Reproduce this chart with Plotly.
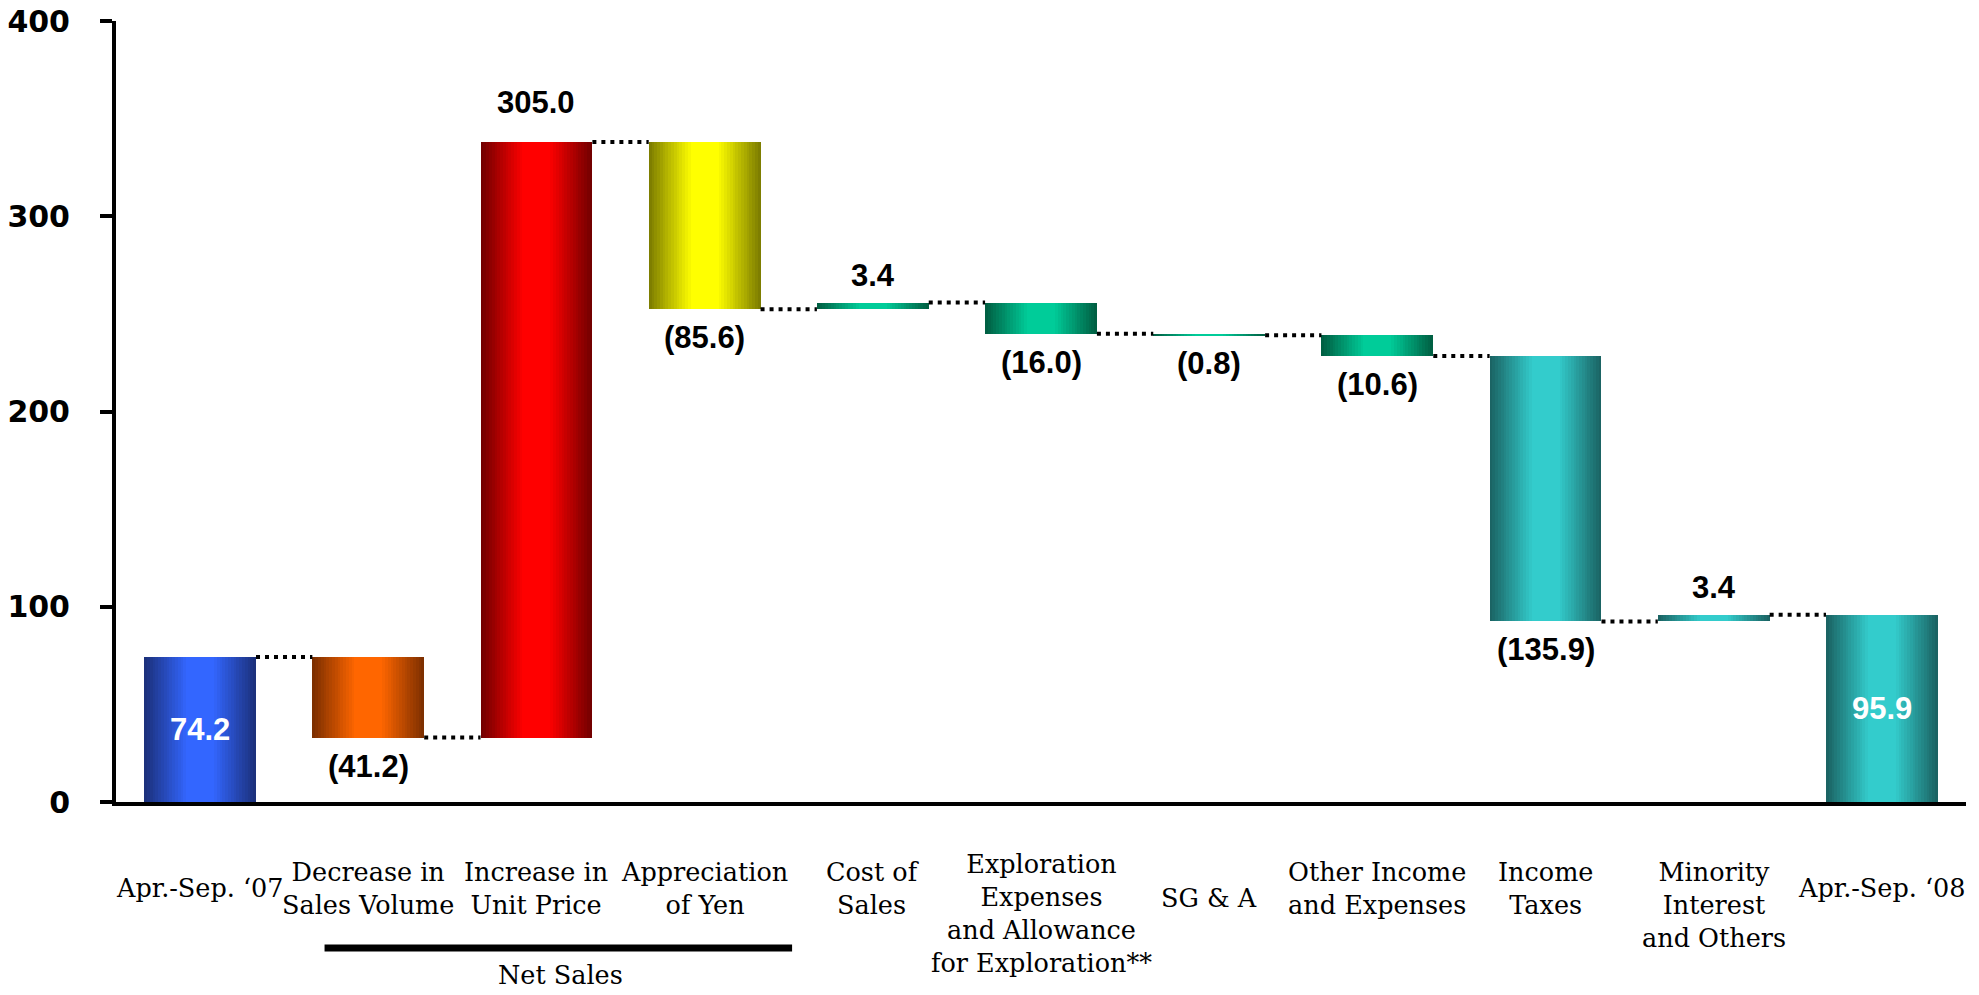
import plotly.graph_objects as go

# ---------------- data ----------------
categories = [
    "Apr.-Sep. \u201807",
    "Decrease in<br>Sales Volume",
    "Increase in<br>Unit Price",
    "Appreciation<br>of Yen",
    "Cost of<br>Sales",
    "Exploration<br>Expenses<br>and Allowance<br>for Exploration**",
    "SG & A",
    "Other Income<br>and Expenses",
    "Income<br>Taxes",
    "Minority<br>Interest<br>and Others",
    "Apr.-Sep. \u201808",
]
start_value = 74.2
deltas = [-41.2, 305.0, -85.6, 3.4, -16.0, -0.8, -10.6, -135.9, 3.4]
end_value = 95.9
y_ticks = [0, 100, 200, 300, 400]
group_label = "Net Sales"

# ---------------- styles ----------------
edge_colors = ["#1b2f78", "#7a2e00", "#6e0000", "#7a7a00", "#005c40", "#005c40",
               "#005c40", "#005c40", "#1a6060", "#1a6060", "#1a6060"]
center_colors = ["#3366ff", "#ff6600", "#ff0000", "#ffff00", "#00cc99", "#00cc99",
                 "#00cc99", "#00cc99", "#33cccc", "#33cccc", "#33cccc"]

W, H = 1979, 995
ML, MR, MT, MB = 116, 13, 21, 193
PLOT_H = H - MT - MB
BW = 0.665
N_STRIPS = 40
LABEL_FONT = "DejaVu Serif"
LABEL_SIZE = 25.5

# ---------------- waterfall geometry from data ----------------
n = len(categories)
xs = list(range(n))
bases, heights, levels = [], [], []
bases.append(0.0); heights.append(start_value); levels.append(start_value)
run = start_value
for d in deltas:
    new = run + d
    bases.append(min(run, new)); heights.append(abs(d))
    run = new
    levels.append(run)
bases.append(0.0); heights.append(end_value); levels.append(end_value)


def hex2rgb(h):
    h = h.lstrip("#")
    return tuple(int(h[i:i + 2], 16) for i in (0, 2, 4))


def mix(c1, c2, t):
    a, b = hex2rgb(c1), hex2rgb(c2)
    return "rgb(%d,%d,%d)" % tuple(round(a[k] + (b[k] - a[k]) * t) for k in range(3))


fig = go.Figure()

step = BW / N_STRIPS
for i in range(N_STRIPS):
    u = (i + 0.5) / N_STRIPS
    t = 1 - abs(2 * u - 1)
    s = min(1.0, t * 1.3)
    cols = [mix(edge_colors[k], center_colors[k], s) for k in range(n)]
    fig.add_trace(go.Bar(
        x=xs, y=heights, base=bases,
        width=step * (1.6 if i < N_STRIPS - 1 else 1.0),
        offset=-BW / 2 + i * step,
        marker=dict(color=cols, line=dict(width=0)),
        showlegend=False, hoverinfo="skip",
    ))

# dotted connectors
cx, cy = [], []
for k in range(n - 1):
    cx += [k + BW / 2, k + 1 - BW / 2, None]
    cy += [levels[k], levels[k], None]
fig.add_trace(go.Scatter(x=cx, y=cy, mode="lines",
                         line=dict(color="black", width=4, dash="4px,5px"),
                         showlegend=False, hoverinfo="skip"))

annotations = []
val_font = dict(family="Liberation Sans", size=31, color="black")
# start/end labels inside bars
for k, v in [(0, start_value), (n - 1, end_value)]:
    annotations.append(dict(x=k, y=v / 2, xref="x", yref="y", text="<b>%.1f</b>" % v,
                            showarrow=False, yanchor="middle",
                            font=dict(family="Liberation Sans", size=31, color="white")))
pos_shift = {2: 20}
for j, d in enumerate(deltas):
    k = j + 1
    if d >= 0:
        annotations.append(dict(x=k, y=bases[k] + heights[k], xref="x", yref="y",
                                text="<b>%.1f</b>" % d, showarrow=False, yanchor="bottom",
                                yshift=pos_shift.get(k, 8), font=val_font))
    else:
        annotations.append(dict(x=k, y=bases[k], xref="x", yref="y",
                                text="<b>(%.1f)</b>" % abs(d), showarrow=False, yanchor="top",
                                yshift=-9, font=val_font))

# category labels (pixel centres measured from reference layout)
label_center_px = [888, 888, 888, 888, 888, 913, 898, 888, 888, 905, 888]
plot_bottom = H - MB
for k, c in enumerate(categories):
    annotations.append(dict(x=k, y=(plot_bottom - label_center_px[k]) / PLOT_H,
                            xref="x", yref="paper", text=c, showarrow=False,
                            yanchor="middle", align="center",
                            font=dict(family=LABEL_FONT, size=LABEL_SIZE, color="black")))

annotations.append(dict(x=2.14, y=(plot_bottom - 975) / PLOT_H, xref="x", yref="paper",
                        text=group_label, showarrow=False, yanchor="middle", borderpad=0,
                        font=dict(family=LABEL_FONT, size=LABEL_SIZE, color="black")))

shapes = [dict(type="line", xref="x", yref="paper", x0=0.74, x1=3.52,
               y0=(plot_bottom - 948) / PLOT_H, y1=(plot_bottom - 948) / PLOT_H,
               line=dict(color="black", width=7))]

fig.update_layout(
    width=W, height=H,
    margin=dict(l=ML, r=MR, t=MT, b=MB, autoexpand=False),
    plot_bgcolor="white", paper_bgcolor="white",
    barmode="overlay", bargap=0,
    annotations=annotations, shapes=shapes,
    xaxis=dict(range=[-0.5, n - 0.5], showgrid=False, zeroline=False,
               showline=True, linecolor="black", linewidth=4, automargin=False,
               showticklabels=False, ticks=""),
    yaxis=dict(range=[0, 400], tickvals=y_ticks, showgrid=False, zeroline=False,
               showline=True, linecolor="black", linewidth=4, automargin=False,
               ticks="outside", ticklen=12, tickwidth=4, tickcolor="black",
               ticklabelstandoff=24,
               tickfont=dict(family="DejaVu Sans", size=30, color="black", weight="bold")),
    showlegend=False,
)

fig.write_html("out.html")
